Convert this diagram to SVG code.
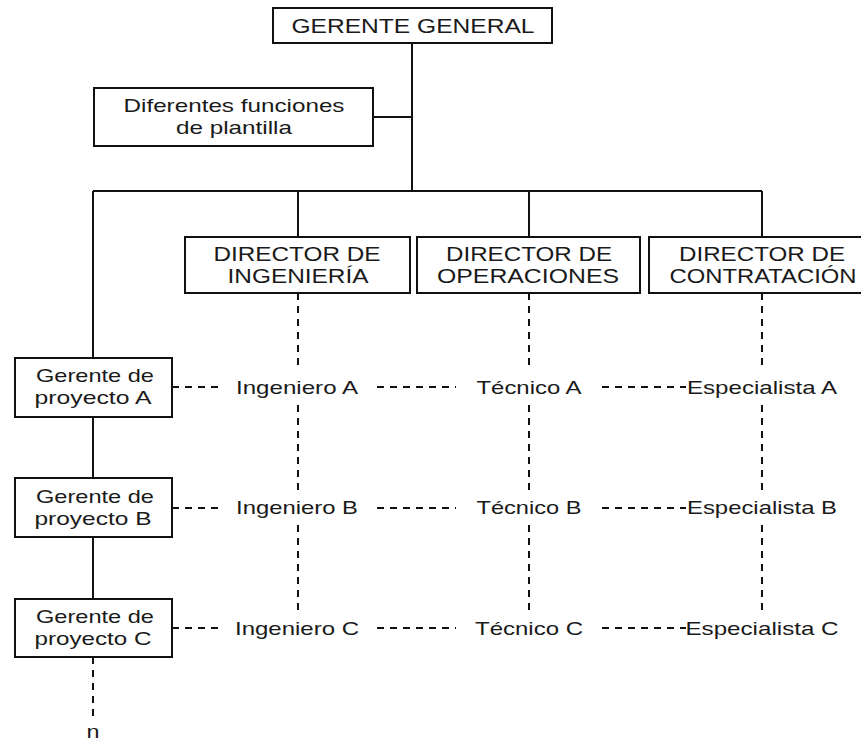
<svg xmlns="http://www.w3.org/2000/svg" width="861" height="744" viewBox="0 0 861 744">
<style>
.box{fill:#fff;stroke:#111;stroke-width:2}
.ln{stroke:#111;stroke-width:2;fill:none}
.dl{stroke:#111;stroke-width:2;fill:none;stroke-dasharray:7,6}
text{font-family:"Liberation Sans",Arial,sans-serif;fill:#1a1a1a;text-anchor:middle}
.t19{font-size:19px}
.t20{font-size:20px}
.t21{font-size:21px}
</style>
<rect width="861" height="744" fill="#fff"/>
<g id="connectors">
<path class="ln" d="M412 43V191M373 117H412M93 191H762M298 191V237M529 191V237M762 191V237M93 191V358M93 417V478M93 537V599"/>
<path class="dl" d="M93 657V717"/>
<path class="dl" d="M298 293V369M298 405V490M298 525V612"/>
<path class="dl" d="M529 293V369M529 405V490M529 525V612"/>
<path class="dl" d="M762 293V369M762 405V490M762 525V612"/>
<path class="dl" d="M172 387H218M377 387H456M602 387H686"/>
<path class="dl" d="M172 508H218M377 508H456M602 508H686"/>
<path class="dl" d="M172 628H218M377 628H456M602 628H686"/>
</g>
<g id="gerente-general"><rect class="box" x="273" y="8" width="279" height="35"/><text class="t21" x="413" y="33" textLength="243" lengthAdjust="spacingAndGlyphs">GERENTE GENERAL</text></g>
<g id="funciones"><rect class="box" x="94" y="88" width="279" height="58"/><text class="t19" x="234" y="111.5" textLength="221" lengthAdjust="spacingAndGlyphs">Diferentes funciones</text><text class="t19" x="234" y="134" textLength="116" lengthAdjust="spacingAndGlyphs">de plantilla</text></g>
<g id="dir-ing"><rect class="box" x="185" y="237" width="225" height="56"/><text class="t20" x="297" y="261" textLength="167" lengthAdjust="spacingAndGlyphs">DIRECTOR DE</text><text class="t20" x="298" y="283" textLength="141" lengthAdjust="spacingAndGlyphs">INGENIERÍA</text></g>
<g id="dir-op"><rect class="box" x="417" y="237" width="223" height="56"/><text class="t20" x="529" y="261" textLength="166" lengthAdjust="spacingAndGlyphs">DIRECTOR DE</text><text class="t20" x="528" y="283" textLength="182" lengthAdjust="spacingAndGlyphs">OPERACIONES</text></g>
<g id="dir-con"><rect class="box" x="649" y="237" width="226" height="56"/><text class="t20" x="762" y="261" textLength="166" lengthAdjust="spacingAndGlyphs">DIRECTOR DE</text><text class="t20" x="763" y="283" textLength="187" lengthAdjust="spacingAndGlyphs">CONTRATACIÓN</text></g>
<g id="gp-a"><rect class="box" x="15" y="358" width="157" height="59"/><text class="t19" x="95" y="381.5" textLength="118" lengthAdjust="spacingAndGlyphs">Gerente de</text><text class="t19" x="93" y="404" textLength="117" lengthAdjust="spacingAndGlyphs">proyecto A</text></g>
<g id="gp-b"><rect class="box" x="15" y="478" width="157" height="59"/><text class="t19" x="95" y="503" textLength="118" lengthAdjust="spacingAndGlyphs">Gerente de</text><text class="t19" x="93" y="525" textLength="117" lengthAdjust="spacingAndGlyphs">proyecto B</text></g>
<g id="gp-c"><rect class="box" x="15" y="599" width="157" height="58"/><text class="t19" x="95" y="623" textLength="118" lengthAdjust="spacingAndGlyphs">Gerente de</text><text class="t19" x="93" y="645" textLength="117" lengthAdjust="spacingAndGlyphs">proyecto C</text></g>
<g id="ing-a"><text class="t19" x="297" y="393.5" textLength="122" lengthAdjust="spacingAndGlyphs">Ingeniero A</text></g>
<g id="ing-b"><text class="t19" x="297" y="514" textLength="122" lengthAdjust="spacingAndGlyphs">Ingeniero B</text></g>
<g id="ing-c"><text class="t19" x="297" y="635" textLength="124" lengthAdjust="spacingAndGlyphs">Ingeniero C</text></g>
<g id="tec-a"><text class="t19" x="529" y="393.5" textLength="105" lengthAdjust="spacingAndGlyphs">Técnico A</text></g>
<g id="tec-b"><text class="t19" x="529" y="514" textLength="105" lengthAdjust="spacingAndGlyphs">Técnico B</text></g>
<g id="tec-c"><text class="t19" x="529" y="635" textLength="108" lengthAdjust="spacingAndGlyphs">Técnico C</text></g>
<g id="esp-a"><text class="t19" x="762" y="393.5" textLength="150" lengthAdjust="spacingAndGlyphs">Especialista A</text></g>
<g id="esp-b"><text class="t19" x="762" y="514" textLength="150" lengthAdjust="spacingAndGlyphs">Especialista B</text></g>
<g id="esp-c"><text class="t19" x="762" y="635" textLength="153" lengthAdjust="spacingAndGlyphs">Especialista C</text></g>
<g id="n"><text class="t19" x="93" y="738" textLength="13" lengthAdjust="spacingAndGlyphs">n</text></g>
</svg>
